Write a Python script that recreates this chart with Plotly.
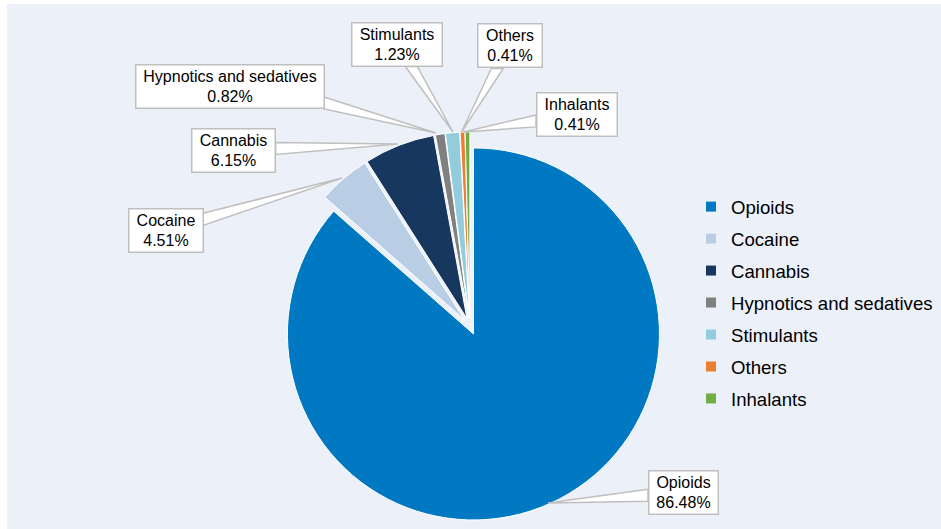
import plotly.graph_objects as go

labels = ["Opioids", "Cocaine", "Cannabis", "Hypnotics and sedatives", "Stimulants", "Others", "Inhalants"]
values = [86.48, 4.51, 6.15, 0.82, 1.23, 0.41, 0.41]
colors = ["#0079C2", "#B9CDE5", "#17375E", "#808080", "#93CDDD", "#ED7D31", "#70AD47"]

W, H = 941, 529
# label box centre, leader tip and box width (pixels, top-left origin)
label_pos = {
    "Opioids": ((683, 492.5), (548, 503), 70),
    "Cocaine": ((165.5, 230.5), (342, 178), 75),
    "Cannabis": ((233.7, 150), (398, 144), 84),
    "Hypnotics and sedatives": ((229.5, 86.5), (436, 133), 189),
    "Stimulants": ((397, 44), (453, 132), 91),
    "Others": ((510, 46), (461.5, 132), 65),
    "Inhalants": ((576.5, 114.7), (463.5, 132), 81),
}
BOX_H = 45
GRAY = "#BFBFBF"


def px(x, y):
    return x / W, 1 - y / H


def wedge_path(center, tip, bw):
    cx, cy = center
    tx, ty = tip
    hw, hh = bw / 2, BOX_H / 2
    dx, dy = tx - cx, ty - cy
    tx_s = hw / abs(dx) if dx else 1e9
    ty_s = hh / abs(dy) if dy else 1e9
    half = 6
    if tx_s < ty_s:
        ex = cx + dx * tx_s
        ey = cy + dy * tx_s
        y0 = max(cy - hh, min(cy + hh - 2 * half, ey - half))
        p1, p2 = (ex, y0), (ex, y0 + 2 * half)
    else:
        ex = cx + dx * ty_s
        ey = cy + dy * ty_s
        x0 = max(cx - hw, min(cx + hw - 2 * half, ex - half))
        p1, p2 = (x0, ey), (x0 + 2 * half, ey)
    pts = [p1, (tx, ty), p2]
    return "M " + " L ".join("%.5f,%.5f" % px(*p) for p in pts) + " Z"


fig = go.Figure()
fig.add_trace(go.Pie(
    labels=labels, values=values, sort=False, direction="clockwise", rotation=0,
    marker=dict(colors=colors, line=dict(color="white", width=1)),
    pull=[0.045] * len(labels), textinfo="none", showlegend=False,
    domain=dict(x=[275.6 / W, 664.4 / W], y=[1 - 520.7 / H, 1 - 131.9 / H]),
    hoverinfo="label+percent",
))

for lab, col in zip(labels, colors):
    fig.add_trace(go.Scatter(x=[None], y=[None], mode="markers", name=lab,
                             legendgroup=lab,
                             marker=dict(symbol="square", size=10, color=col)))

shapes = [dict(type="rect", xref="paper", yref="paper", x0=7 / W, x1=1, y0=0, y1=1 - 4 / H,
               fillcolor="#ECF1F9", line=dict(width=0), layer="below")]
annotations = []
for lab, val in zip(labels, values):
    center, tip, bw = label_pos[lab]
    shapes.append(dict(type="path", xref="paper", yref="paper",
                       path=wedge_path(center, tip, bw),
                       fillcolor="white", line=dict(color=GRAY, width=1.5), layer="above"))
    ax, ay = px(*center)
    annotations.append(dict(
        x=ax, y=ay, xref="paper", yref="paper", xanchor="center", yanchor="middle",
        text=f"{lab}<br>{val:.2f}%", showarrow=False,
        bgcolor="white", bordercolor=GRAY, borderwidth=1.5, borderpad=2,
        width=bw - 6, align="center",
        font=dict(family="Liberation Sans, Arial, sans-serif", size=16, color="#000000"),
    ))

fig.update_layout(
    width=W, height=H,
    margin=dict(l=0, r=0, t=0, b=0),
    paper_bgcolor="white", plot_bgcolor="rgba(0,0,0,0)",
    xaxis=dict(visible=False), yaxis=dict(visible=False),
    shapes=shapes,
    annotations=annotations,
    legend=dict(x=691 / W, y=1 - 188 / H, xanchor="left", yanchor="top",
                font=dict(family="Liberation Sans, Arial, sans-serif", size=18.6, color="#000000"),
                bgcolor="rgba(0,0,0,0)", tracegroupgap=4.8),
    showlegend=True,
)

fig.write_html("out.html", config={"displayModeBar": False},
               post_script="document.body.style.margin='0';")
